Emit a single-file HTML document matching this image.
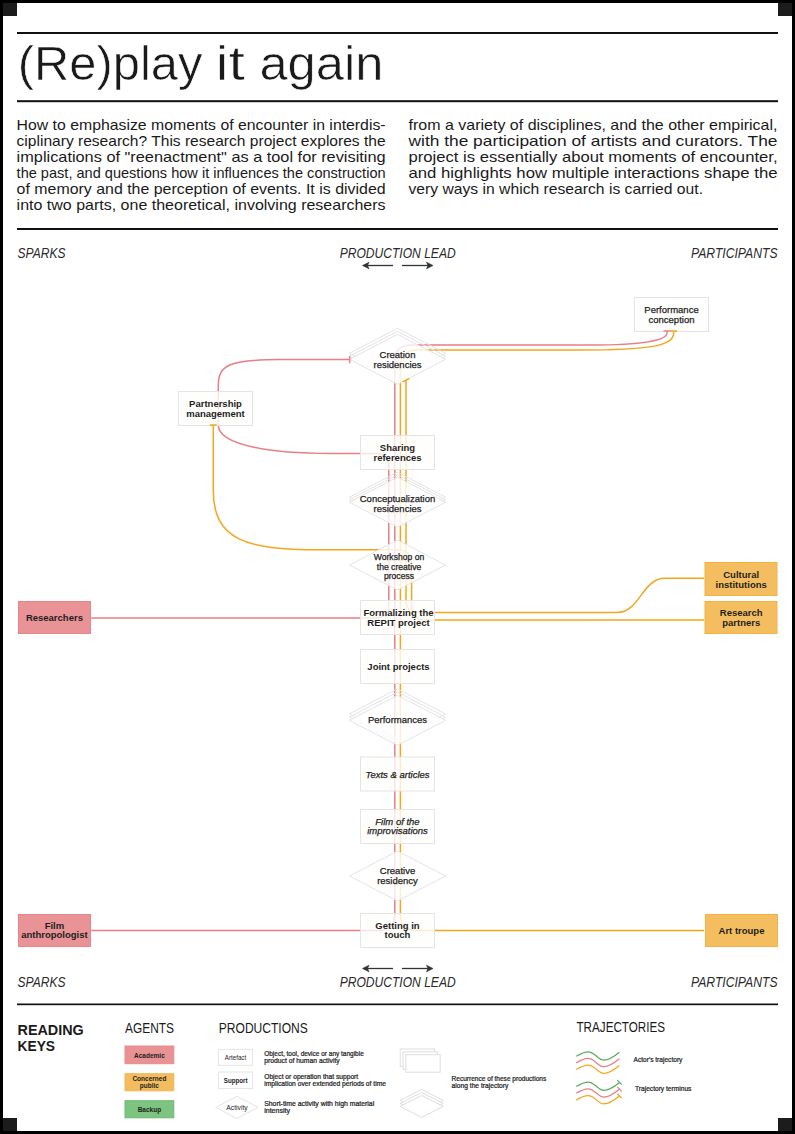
<!DOCTYPE html><html><head><meta charset="utf-8"><style>html,body{margin:0;padding:0;background:#fff;}svg{display:block;} text{font-family:"Liberation Sans", sans-serif;}</style></head><body>
<svg width="795" height="1134" viewBox="0 0 795 1134">
<rect x="0" y="0" width="795" height="1134" fill="#fff"/>
<rect x="17" y="32" width="761" height="2" fill="#111"/>
<text x="17.8" y="79.6" font-size="48.5" font-weight="normal" font-style="normal" text-anchor="start" fill="#1a1a1a" textLength="184.6" lengthAdjust="spacingAndGlyphs" stroke="#fff" stroke-width="0.6">(Re)play</text>
<text x="215.5" y="79.6" font-size="48.5" font-weight="normal" font-style="normal" text-anchor="start" fill="#1a1a1a" textLength="29.5" lengthAdjust="spacingAndGlyphs" stroke="#fff" stroke-width="0.6">it</text>
<text x="259.4" y="79.6" font-size="48.5" font-weight="normal" font-style="normal" text-anchor="start" fill="#1a1a1a" textLength="124" lengthAdjust="spacingAndGlyphs" stroke="#fff" stroke-width="0.6">again</text>
<rect x="17" y="100.2" width="761" height="2" fill="#111"/>
<text x="16.6" y="129.8" font-size="14.6" font-weight="normal" font-style="normal" text-anchor="start" fill="#1a1a1a" textLength="369" lengthAdjust="spacingAndGlyphs" >How to emphasize moments of encounter in interdis-</text>
<text x="16.6" y="145.8" font-size="14.6" font-weight="normal" font-style="normal" text-anchor="start" fill="#1a1a1a" textLength="369" lengthAdjust="spacingAndGlyphs" >ciplinary research? This research project explores the</text>
<text x="16.6" y="161.8" font-size="14.6" font-weight="normal" font-style="normal" text-anchor="start" fill="#1a1a1a" textLength="369" lengthAdjust="spacingAndGlyphs" >implications of &quot;reenactment&quot; as a tool for revisiting</text>
<text x="16.6" y="177.8" font-size="14.6" font-weight="normal" font-style="normal" text-anchor="start" fill="#1a1a1a" textLength="369" lengthAdjust="spacingAndGlyphs" >the past, and questions how it influences the construction</text>
<text x="16.6" y="193.8" font-size="14.6" font-weight="normal" font-style="normal" text-anchor="start" fill="#1a1a1a" textLength="369" lengthAdjust="spacingAndGlyphs" >of memory and the perception of events. It is divided</text>
<text x="16.6" y="209.8" font-size="14.6" font-weight="normal" font-style="normal" text-anchor="start" fill="#1a1a1a" textLength="369" lengthAdjust="spacingAndGlyphs" >into two parts, one theoretical, involving researchers</text>
<text x="408.5" y="129.8" font-size="14.6" font-weight="normal" font-style="normal" text-anchor="start" fill="#1a1a1a" textLength="369" lengthAdjust="spacingAndGlyphs" >from a variety of disciplines, and the other empirical,</text>
<text x="408.5" y="145.8" font-size="14.6" font-weight="normal" font-style="normal" text-anchor="start" fill="#1a1a1a" textLength="369" lengthAdjust="spacingAndGlyphs" >with the participation of artists and curators. The</text>
<text x="408.5" y="161.8" font-size="14.6" font-weight="normal" font-style="normal" text-anchor="start" fill="#1a1a1a" textLength="369" lengthAdjust="spacingAndGlyphs" >project is essentially about moments of encounter,</text>
<text x="408.5" y="177.8" font-size="14.6" font-weight="normal" font-style="normal" text-anchor="start" fill="#1a1a1a" textLength="369" lengthAdjust="spacingAndGlyphs" >and highlights how multiple interactions shape the</text>
<text x="408.5" y="193.8" font-size="14.6" font-weight="normal" font-style="normal" text-anchor="start" fill="#1a1a1a" textLength="294.5" lengthAdjust="spacingAndGlyphs" >very ways in which research is carried out.</text>
<rect x="17" y="228" width="761" height="2" fill="#111"/>
<text x="17.5" y="257.5" font-size="14" font-weight="normal" font-style="italic" text-anchor="start" fill="#2a2a2a" textLength="48" lengthAdjust="spacingAndGlyphs" >SPARKS</text>
<text x="339.7" y="257.5" font-size="14" font-weight="normal" font-style="italic" text-anchor="start" fill="#2a2a2a" textLength="116" lengthAdjust="spacingAndGlyphs" >PRODUCTION LEAD</text>
<text x="691" y="257.5" font-size="14" font-weight="normal" font-style="italic" text-anchor="start" fill="#2a2a2a" textLength="86.5" lengthAdjust="spacingAndGlyphs" >PARTICIPANTS</text>
<line x1="364" y1="265.5" x2="393" y2="265.5" stroke="#333" stroke-width="1.3"/>
<polygon points="362.5,265.5 369,262.2 367.5,265.5 369,268.8" fill="#333" stroke="#333" stroke-width="0.6" stroke-linejoin="round"/>
<line x1="402" y1="265.5" x2="431" y2="265.5" stroke="#333" stroke-width="1.3"/>
<polygon points="433,265.5 426.5,262.2 428,265.5 426.5,268.8" fill="#333" stroke="#333" stroke-width="0.6" stroke-linejoin="round"/>
<text x="17.5" y="987" font-size="14" font-weight="normal" font-style="italic" text-anchor="start" fill="#2a2a2a" textLength="48" lengthAdjust="spacingAndGlyphs" >SPARKS</text>
<text x="339.7" y="987" font-size="14" font-weight="normal" font-style="italic" text-anchor="start" fill="#2a2a2a" textLength="116" lengthAdjust="spacingAndGlyphs" >PRODUCTION LEAD</text>
<text x="691" y="987" font-size="14" font-weight="normal" font-style="italic" text-anchor="start" fill="#2a2a2a" textLength="86.5" lengthAdjust="spacingAndGlyphs" >PARTICIPANTS</text>
<line x1="364" y1="968.5" x2="393" y2="968.5" stroke="#333" stroke-width="1.3"/>
<polygon points="362.5,968.5 369,965.2 367.5,968.5 369,971.8" fill="#333" stroke="#333" stroke-width="0.6" stroke-linejoin="round"/>
<line x1="402" y1="968.5" x2="431" y2="968.5" stroke="#333" stroke-width="1.3"/>
<polygon points="433,968.5 426.5,965.2 428,968.5 426.5,971.8" fill="#333" stroke="#333" stroke-width="0.6" stroke-linejoin="round"/>
<path d="M667,331 L667,333 C667,340 645,345 590,345 L412,345 C400,345 394.8,350 394.8,360 L394.8,915 C394.8,926 388,930.5 378,930.5 L91.2,930.5" fill="none" stroke="#e77f85" stroke-width="1.5"/>
<path d="M673.7,331 L673.7,333 C673.7,346 650,350 580,350 L418,350 C406,350 400.4,356 400.4,366 L400.4,915 C400.4,926 407,930.5 418,930.5 L704,930.5" fill="none" stroke="#f3a61b" stroke-width="1.5"/>
<path d="M406,380 L406,600 C406,609 410,612.5 420,612.5 L617,612.5 C640,612.5 642,578.2 665,578.2 L704.2,578.2" fill="none" stroke="#f3a61b" stroke-width="1.5"/>
<path d="M349.6,359.6 L280,359.6 C230,359.6 218.3,365 218.3,385 L218.3,425 C218.3,445 270,453.5 330,453.5 L375,453.5 C384,453.5 388.8,458 388.8,467 L388.8,605 C388.8,613 384,618 375,618 L91.2,618" fill="none" stroke="#e77f85" stroke-width="1.5"/>
<path d="M213.3,425 L213.3,490 C213.3,540 245,549.8 320,549.8 L398,549.8 C407,549.8 411.6,555 411.6,565 L411.6,607 C411.6,615 416,619.9 425,619.9 L704.2,619.9" fill="none" stroke="#f3a61b" stroke-width="1.5"/>
<polygon points="349.35,353.3 397.5,328.3 445.65,353.3 397.5,378.3" fill="none" stroke="#e4e4e4" stroke-width="1"/>
<polygon points="349.35,356.3 397.5,331.3 445.65,356.3 397.5,381.3" fill="none" stroke="#e4e4e4" stroke-width="1"/>
<polygon points="349.35,359.3 397.5,334.3 445.65,359.3 397.5,384.3" fill="rgba(255,255,255,0.8)" stroke="#e4e4e4" stroke-width="1"/>
<polygon points="349.35,497.2 397.5,472.2 445.65,497.2 397.5,522.2" fill="none" stroke="#e4e4e4" stroke-width="1"/>
<polygon points="349.35,499.7 397.5,474.7 445.65,499.7 397.5,524.7" fill="none" stroke="#e4e4e4" stroke-width="1"/>
<polygon points="349.35,502.2 397.5,477.2 445.65,502.2 397.5,527.2" fill="rgba(255,255,255,0.8)" stroke="#e4e4e4" stroke-width="1"/>
<polygon points="349.5,565 397.5,540.0 445.5,565 397.5,590.0" fill="rgba(255,255,255,0.8)" stroke="#e4e4e4" stroke-width="1"/>
<polygon points="349.35,713.9 397.5,688.9 445.65,713.9 397.5,738.9" fill="none" stroke="#e4e4e4" stroke-width="1"/>
<polygon points="349.35,717.0999999999999 397.5,692.0999999999999 445.65,717.0999999999999 397.5,742.0999999999999" fill="none" stroke="#e4e4e4" stroke-width="1"/>
<polygon points="349.35,720.3 397.5,695.3 445.65,720.3 397.5,745.3" fill="rgba(255,255,255,0.8)" stroke="#e4e4e4" stroke-width="1"/>
<polygon points="349.5,876 397.5,851.0 445.5,876 397.5,901.0" fill="rgba(255,255,255,0.8)" stroke="#e4e4e4" stroke-width="1"/>
<rect x="360.5" y="435.5" width="74.0" height="34.0" fill="rgba(254,254,252,0.8)" stroke="#e4e4e4" stroke-width="1"/>
<rect x="360.5" y="600.5" width="74.0" height="34.0" fill="rgba(254,254,252,0.8)" stroke="#e4e4e4" stroke-width="1"/>
<rect x="360.5" y="649.5" width="74.0" height="34.0" fill="rgba(254,254,252,0.8)" stroke="#e4e4e4" stroke-width="1"/>
<rect x="360.5" y="757" width="74.0" height="34" fill="rgba(254,254,252,0.8)" stroke="#e4e4e4" stroke-width="1"/>
<rect x="360.5" y="809.5" width="74.0" height="34.0" fill="rgba(254,254,252,0.8)" stroke="#e4e4e4" stroke-width="1"/>
<rect x="360.5" y="913.5" width="74.0" height="34.0" fill="rgba(254,254,252,0.8)" stroke="#e4e4e4" stroke-width="1"/>
<rect x="178.5" y="391.5" width="74.0" height="34.0" fill="rgba(254,254,252,0.8)" stroke="#e4e4e4" stroke-width="1"/>
<rect x="634.5" y="297.5" width="74.0" height="34.0" fill="rgba(254,254,252,0.8)" stroke="#e4e4e4" stroke-width="1"/>
<rect x="18.5" y="601.5" width="72.0" height="32.0" fill="#e99396" stroke="#e6868b" stroke-width="1"/>
<rect x="18.5" y="914.5" width="72.0" height="32.0" fill="#e99396" stroke="#e6868b" stroke-width="1"/>
<rect x="705" y="562.5" width="72" height="33.0" fill="#f4be60" stroke="#f2b240" stroke-width="1"/>
<rect x="705" y="601.5" width="72" height="32.0" fill="#f4be60" stroke="#f2b240" stroke-width="1"/>
<rect x="705.5" y="914.5" width="72.0" height="32.0" fill="#f4be60" stroke="#f2b240" stroke-width="1"/>
<text x="397.5" y="358" font-size="9.5" font-weight="normal" font-style="normal" text-anchor="middle" fill="#1e1e1e" stroke="#1e1e1e" stroke-width="0.25">Creation</text>
<text x="397.5" y="367.5" font-size="9.5" font-weight="normal" font-style="normal" text-anchor="middle" fill="#1e1e1e" stroke="#1e1e1e" stroke-width="0.25">residencies</text>
<text x="397.5" y="451.2" font-size="9.5" font-weight="bold" font-style="normal" text-anchor="middle" fill="#1e1e1e" >Sharing</text>
<text x="397.5" y="460.8" font-size="9.5" font-weight="bold" font-style="normal" text-anchor="middle" fill="#1e1e1e" >references</text>
<text x="397.5" y="502.3" font-size="9.5" font-weight="normal" font-style="normal" text-anchor="middle" fill="#1e1e1e" stroke="#1e1e1e" stroke-width="0.25">Conceptualization</text>
<text x="397.5" y="511.6" font-size="9.5" font-weight="normal" font-style="normal" text-anchor="middle" fill="#1e1e1e" stroke="#1e1e1e" stroke-width="0.25">residencies</text>
<text x="399.0" y="560" font-size="8.6" font-weight="normal" font-style="normal" text-anchor="middle" fill="#1e1e1e" stroke="#1e1e1e" stroke-width="0.25">Workshop on</text>
<text x="399.0" y="569.6" font-size="8.6" font-weight="normal" font-style="normal" text-anchor="middle" fill="#1e1e1e" stroke="#1e1e1e" stroke-width="0.25">the creative</text>
<text x="399.0" y="579.2" font-size="8.6" font-weight="normal" font-style="normal" text-anchor="middle" fill="#1e1e1e" stroke="#1e1e1e" stroke-width="0.25">process</text>
<text x="398.5" y="615.8" font-size="9.5" font-weight="bold" font-style="normal" text-anchor="middle" fill="#1e1e1e" >Formalizing the</text>
<text x="398.5" y="625.5999999999999" font-size="9.5" font-weight="bold" font-style="normal" text-anchor="middle" fill="#1e1e1e" >REPIT project</text>
<text x="398.5" y="670" font-size="9.5" font-weight="bold" font-style="normal" text-anchor="middle" fill="#1e1e1e" >Joint projects</text>
<text x="397.5" y="723" font-size="9.5" font-weight="normal" font-style="normal" text-anchor="middle" fill="#1e1e1e" stroke="#1e1e1e" stroke-width="0.25">Performances</text>
<text x="397.5" y="777.5" font-size="9.5" font-weight="normal" font-style="italic" text-anchor="middle" fill="#1e1e1e" stroke="#1e1e1e" stroke-width="0.25">Texts &amp; articles</text>
<text x="397.5" y="824.7" font-size="9.5" font-weight="normal" font-style="italic" text-anchor="middle" fill="#1e1e1e" stroke="#1e1e1e" stroke-width="0.25">Film of the</text>
<text x="397.5" y="834.4000000000001" font-size="9.5" font-weight="normal" font-style="italic" text-anchor="middle" fill="#1e1e1e" stroke="#1e1e1e" stroke-width="0.25">improvisations</text>
<text x="397.5" y="874" font-size="9.5" font-weight="normal" font-style="normal" text-anchor="middle" fill="#1e1e1e" stroke="#1e1e1e" stroke-width="0.25">Creative</text>
<text x="397.5" y="883.7" font-size="9.5" font-weight="normal" font-style="normal" text-anchor="middle" fill="#1e1e1e" stroke="#1e1e1e" stroke-width="0.25">residency</text>
<text x="397.5" y="928.6" font-size="9.5" font-weight="bold" font-style="normal" text-anchor="middle" fill="#1e1e1e" >Getting in</text>
<text x="397.5" y="938.0" font-size="9.5" font-weight="bold" font-style="normal" text-anchor="middle" fill="#1e1e1e" >touch</text>
<text x="215.5" y="407" font-size="9.5" font-weight="bold" font-style="normal" text-anchor="middle" fill="#1e1e1e" >Partnership</text>
<text x="215.5" y="416.6" font-size="9.5" font-weight="bold" font-style="normal" text-anchor="middle" fill="#1e1e1e" >management</text>
<text x="671.5" y="312.9" font-size="9.5" font-weight="normal" font-style="normal" text-anchor="middle" fill="#1e1e1e" stroke="#1e1e1e" stroke-width="0.25">Performance</text>
<text x="671.5" y="322.5" font-size="9.5" font-weight="normal" font-style="normal" text-anchor="middle" fill="#1e1e1e" stroke="#1e1e1e" stroke-width="0.25">conception</text>
<text x="54.4" y="620.9" font-size="9.5" font-weight="bold" font-style="normal" text-anchor="middle" fill="#1e1e1e" >Researchers</text>
<text x="54.4" y="928.7" font-size="9.5" font-weight="bold" font-style="normal" text-anchor="middle" fill="#1e1e1e" >Film</text>
<text x="54.4" y="938.4000000000001" font-size="9.5" font-weight="bold" font-style="normal" text-anchor="middle" fill="#1e1e1e" >anthropologist</text>
<text x="741.2" y="578.2" font-size="9.5" font-weight="bold" font-style="normal" text-anchor="middle" fill="#1e1e1e" >Cultural</text>
<text x="741.2" y="587.5" font-size="9.5" font-weight="bold" font-style="normal" text-anchor="middle" fill="#1e1e1e" >institutions</text>
<text x="741.2" y="616.2" font-size="9.5" font-weight="bold" font-style="normal" text-anchor="middle" fill="#1e1e1e" >Research</text>
<text x="741.2" y="625.5" font-size="9.5" font-weight="bold" font-style="normal" text-anchor="middle" fill="#1e1e1e" >partners</text>
<text x="741.5" y="933.5" font-size="9.5" font-weight="bold" font-style="normal" text-anchor="middle" fill="#1e1e1e" >Art troupe</text>
<line x1="663.5" y1="331" x2="670.5" y2="331" stroke="#e77f85" stroke-width="1.5"/>
<line x1="670.2" y1="331" x2="677.2" y2="331" stroke="#f3a61b" stroke-width="1.5"/>
<line x1="402.6" y1="381.8" x2="409.4" y2="378.3" stroke="#f3a61b" stroke-width="1.5"/>
<line x1="349.6" y1="356" x2="349.6" y2="363.2" stroke="#e77f85" stroke-width="1.5"/>
<line x1="209.8" y1="425" x2="216.8" y2="425" stroke="#f3a61b" stroke-width="1.5"/>
<rect x="17" y="1003.5" width="761" height="1.7" fill="#111"/>
<text x="17.5" y="1034.7" font-size="14" font-weight="bold" font-style="normal" text-anchor="start" fill="#1a1a1a" textLength="66.3" lengthAdjust="spacingAndGlyphs" >READING</text>
<text x="17.5" y="1051" font-size="14" font-weight="bold" font-style="normal" text-anchor="start" fill="#1a1a1a" textLength="37.5" lengthAdjust="spacingAndGlyphs" >KEYS</text>
<text x="125" y="1032.7" font-size="14" font-weight="normal" font-style="normal" text-anchor="start" fill="#1a1a1a" textLength="49" lengthAdjust="spacingAndGlyphs" >AGENTS</text>
<text x="218.8" y="1032.7" font-size="14" font-weight="normal" font-style="normal" text-anchor="start" fill="#1a1a1a" textLength="89" lengthAdjust="spacingAndGlyphs" >PRODUCTIONS</text>
<text x="576.5" y="1032.4" font-size="14" font-weight="normal" font-style="normal" text-anchor="start" fill="#1a1a1a" textLength="88.5" lengthAdjust="spacingAndGlyphs" >TRAJECTORIES</text>
<rect x="125" y="1046" width="48.80000000000001" height="17.700000000000045" fill="#e99294" stroke="#e58a8d" stroke-width="1"/>
<rect x="125" y="1073.7" width="48.80000000000001" height="17.09999999999991" fill="#f3bd5f" stroke="#f1b658" stroke-width="1"/>
<rect x="125" y="1100.7" width="48.80000000000001" height="17.09999999999991" fill="#7cc47f" stroke="#6fb873" stroke-width="1"/>
<text x="149.4" y="1057.5" font-size="6.5" font-weight="bold" font-style="normal" text-anchor="middle" fill="#1e1e1e" >Academic</text>
<text x="149.4" y="1081" font-size="6.5" font-weight="bold" font-style="normal" text-anchor="middle" fill="#1e1e1e" >Concerned</text>
<text x="149.4" y="1088" font-size="6.5" font-weight="bold" font-style="normal" text-anchor="middle" fill="#1e1e1e" >public</text>
<text x="149.4" y="1112" font-size="6.5" font-weight="bold" font-style="normal" text-anchor="middle" fill="#1e1e1e" >Backup</text>
<rect x="218.5" y="1049.3" width="34.099999999999994" height="16.0" fill="#fff" stroke="#e4e4e4" stroke-width="1"/>
<rect x="218.5" y="1072" width="34.099999999999994" height="16.59999999999991" fill="#fff" stroke="#e4e4e4" stroke-width="1"/>
<polygon points="215.8,1107.4 236.9,1096.3000000000002 258.0,1107.4 236.9,1118.5" fill="#fff" stroke="#e4e4e4" stroke-width="1"/>
<text x="235.5" y="1059.8" font-size="6.3" font-weight="normal" font-style="normal" text-anchor="middle" fill="#1e1e1e" textLength="21.3" lengthAdjust="spacingAndGlyphs" >Artefact</text>
<text x="235.7" y="1082.8" font-size="6.5" font-weight="bold" font-style="normal" text-anchor="middle" fill="#1e1e1e" textLength="23.8" lengthAdjust="spacingAndGlyphs" >Support</text>
<text x="237" y="1109.8" font-size="6.3" font-weight="normal" font-style="normal" text-anchor="middle" fill="#1e1e1e" textLength="21.3" lengthAdjust="spacingAndGlyphs" >Activity</text>
<text x="264.2" y="1056" font-size="6.5" font-weight="normal" font-style="normal" text-anchor="start" fill="#1e1e1e" textLength="99.6" lengthAdjust="spacingAndGlyphs" stroke="#1e1e1e" stroke-width="0.22">Object, tool, device or any tangible</text>
<text x="264.2" y="1063" font-size="6.5" font-weight="normal" font-style="normal" text-anchor="start" fill="#1e1e1e" textLength="75.5" lengthAdjust="spacingAndGlyphs" stroke="#1e1e1e" stroke-width="0.22">product of human activity</text>
<text x="264.2" y="1079" font-size="6.5" font-weight="normal" font-style="normal" text-anchor="start" fill="#1e1e1e" textLength="94" lengthAdjust="spacingAndGlyphs" stroke="#1e1e1e" stroke-width="0.22">Object or operation that support</text>
<text x="264.2" y="1086" font-size="6.5" font-weight="normal" font-style="normal" text-anchor="start" fill="#1e1e1e" textLength="121.8" lengthAdjust="spacingAndGlyphs" stroke="#1e1e1e" stroke-width="0.22">implication over extended periods of time</text>
<text x="264.2" y="1106" font-size="6.5" font-weight="normal" font-style="normal" text-anchor="start" fill="#1e1e1e" textLength="110" lengthAdjust="spacingAndGlyphs" stroke="#1e1e1e" stroke-width="0.22">Short-time activity with high material</text>
<text x="264.2" y="1113" font-size="6.5" font-weight="normal" font-style="normal" text-anchor="start" fill="#1e1e1e" textLength="25.8" lengthAdjust="spacingAndGlyphs" stroke="#1e1e1e" stroke-width="0.22">intensity</text>
<rect x="400.2" y="1049.0" width="34.400000000000034" height="17.5" fill="rgba(255,255,255,0.92)" stroke="#dedede" stroke-width="1"/>
<rect x="403.0" y="1051.85" width="34.400000000000034" height="17.5" fill="rgba(255,255,255,0.92)" stroke="#dedede" stroke-width="1"/>
<rect x="405.8" y="1054.7" width="34.400000000000034" height="17.5" fill="rgba(255,255,255,0.92)" stroke="#dedede" stroke-width="1"/>
<polygon points="400.2,1100.4 421.7,1089.4 443.2,1100.4 421.7,1111.4" fill="rgba(255,255,255,0.92)" stroke="#dedede" stroke-width="1"/>
<polygon points="400.2,1103.4 421.7,1092.4 443.2,1103.4 421.7,1114.4" fill="rgba(255,255,255,0.92)" stroke="#dedede" stroke-width="1"/>
<polygon points="400.2,1106.4 421.7,1095.4 443.2,1106.4 421.7,1117.4" fill="rgba(255,255,255,0.92)" stroke="#dedede" stroke-width="1"/>
<text x="451.6" y="1081" font-size="6.5" font-weight="normal" font-style="normal" text-anchor="start" fill="#1e1e1e" textLength="94.6" lengthAdjust="spacingAndGlyphs" stroke="#1e1e1e" stroke-width="0.22">Recurrence of these productions</text>
<text x="451.6" y="1088" font-size="6.5" font-weight="normal" font-style="normal" text-anchor="start" fill="#1e1e1e" textLength="56.8" lengthAdjust="spacingAndGlyphs" stroke="#1e1e1e" stroke-width="0.22">along the trajectory</text>
<path d="M576.3,1056.3 C581,1053.3999999999999 584,1051.8 588,1051.8 C595,1051.8 597.5,1060.1 604,1060.1 C609,1060.1 614,1056.6 619.4,1052.2" fill="none" stroke="#5aab5e" stroke-width="1.25"/>
<path d="M576.3,1086.5 C581,1083.6 584,1082.0 588,1082.0 C595,1082.0 597.5,1090.3 604,1090.3 C609,1090.3 614,1086.8 619.4,1082.4" fill="none" stroke="#5aab5e" stroke-width="1.25"/>
<line x1="617.2" y1="1080.1" x2="621.8" y2="1084.6" stroke="#5aab5e" stroke-width="1.25"/>
<path d="M576.3,1062.8999999999999 C581,1059.9999999999998 584,1058.3999999999999 588,1058.3999999999999 C595,1058.3999999999999 597.5,1066.6999999999998 604,1066.6999999999998 C609,1066.6999999999998 614,1063.1999999999998 619.4,1058.8" fill="none" stroke="#e77f85" stroke-width="1.25"/>
<path d="M576.3,1093.3 C581,1090.3999999999999 584,1088.8 588,1088.8 C595,1088.8 597.5,1097.1 604,1097.1 C609,1097.1 614,1093.6 619.4,1089.2" fill="none" stroke="#e77f85" stroke-width="1.25"/>
<line x1="617.2" y1="1086.8999999999999" x2="621.8" y2="1091.3999999999999" stroke="#e77f85" stroke-width="1.25"/>
<path d="M576.3,1069.5 C581,1066.6 584,1065.0 588,1065.0 C595,1065.0 597.5,1073.3 604,1073.3 C609,1073.3 614,1069.8 619.4,1065.4" fill="none" stroke="#f3a61b" stroke-width="1.25"/>
<path d="M576.3,1100.1 C581,1097.1999999999998 584,1095.6 588,1095.6 C595,1095.6 597.5,1103.8999999999999 604,1103.8999999999999 C609,1103.8999999999999 614,1100.3999999999999 619.4,1096.0" fill="none" stroke="#f3a61b" stroke-width="1.25"/>
<line x1="617.2" y1="1093.6999999999998" x2="621.8" y2="1098.1999999999998" stroke="#f3a61b" stroke-width="1.25"/>
<text x="633.5" y="1062" font-size="6.5" font-weight="normal" font-style="normal" text-anchor="start" fill="#1e1e1e" textLength="48.9" lengthAdjust="spacingAndGlyphs" stroke="#1e1e1e" stroke-width="0.22">Actor's trajectory</text>
<text x="635" y="1091.3" font-size="6.5" font-weight="normal" font-style="normal" text-anchor="start" fill="#1e1e1e" textLength="56.4" lengthAdjust="spacingAndGlyphs" stroke="#1e1e1e" stroke-width="0.22">Trajectory terminus</text>
<rect x="1.5" y="1.5" width="792" height="1131" fill="none" stroke="#000" stroke-width="3"/>
<rect x="3" y="3" width="14" height="13" fill="#1c1c1c"/>
<rect x="778" y="3" width="14" height="13" fill="#1c1c1c"/>
<rect x="3" y="1118" width="14" height="13" fill="#1c1c1c"/>
<rect x="778" y="1118" width="14" height="13" fill="#1c1c1c"/>
</svg></body></html>
